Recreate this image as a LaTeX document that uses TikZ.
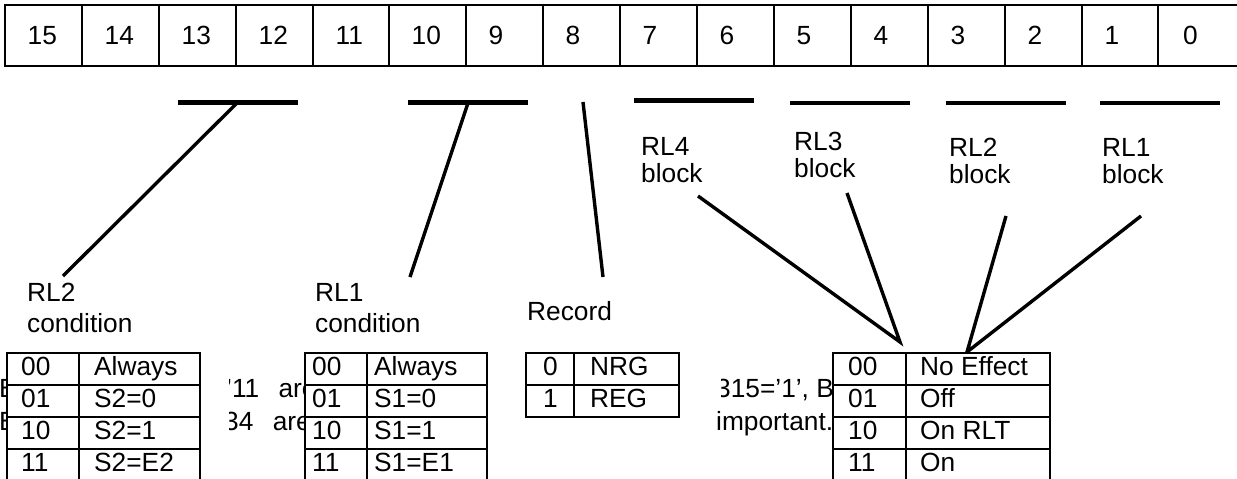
\documentclass[tikz,border=0pt]{standalone}
\usepackage{fontspec}
\setmainfont{Liberation Sans}
\begin{document}
\begin{tikzpicture}[x=1pt,y=-1pt,
  txt/.style={inner sep=0pt, anchor=base west, font=\fontsize{26.3}{31}\selectfont},
  bitcell/.style={anchor=north west, minimum width=77pt,
    minimum height=61pt, text width=32pt, align=left, inner xsep=21pt, inner ysep=0pt,
    font=\fontsize{26.3}{31}\selectfont},
  rowline/.style={line width=2.2pt},
  uline/.style={line width=4.6pt},
  conn/.style={line width=3.4pt},
  tab/.style={line width=1.6pt},
  occ/.style={fill=white, draw=none}]
\useasboundingbox (0,0) rectangle (1237,479);
\fill[white] (0,0) rectangle (1237,479);
% bit row
\foreach \i in {0,...,14} {
  \pgfmathsetmacro\xx{5+round(76.9*\i)}
  \pgfmathtruncatemacro\bit{15-\i}
  \node[bitcell] (bit\bit) at (\xx,5) {\bit};
}
\node[bitcell, minimum width=82pt] (bit0) at (1158,5) {0};
\draw[rowline] (1240,5) -- (5,5) -- (5,66) -- (1240,66);
\foreach \b in {14,...,0} \draw[rowline] (bit\b.north west) -- (bit\b.south west);
% underlines
\draw[uline] (178,102.5) coordinate (u1a) -- (298,102.5) coordinate (u1b);
\draw[uline] (408,102.5) coordinate (u2a) -- (528,102.5) coordinate (u2b);
\draw[uline] (634,100.5) coordinate (u3a) -- (754,100.5) coordinate (u3b);
\draw[uline] (790,103) coordinate (u4a) -- (910,103) coordinate (u4b);
\draw[uline] (946,103) coordinate (u5a) -- (1066,103) coordinate (u5b);
\draw[uline] (1100,103) coordinate (u6a) -- (1220,103) coordinate (u6b);
% labels
\node[txt] (rl2c) at (27,301) {RL2};
\node[txt] (rl2cb) at (27,332) {condition};
\node[txt] (rl1c) at (315,301) {RL1};
\node[txt] (rl1cb) at (315,332) {condition};
\node[txt] (rec) at (527,320) {Record};
\node[txt] (rl4) at (641,155) {RL4};
\node[txt] (rl4b) at (641,182) {block};
\node[txt] (rl3) at (794,150) {RL3};
\node[txt] (rl3b) at (794,177) {block};
\node[txt] (rl2) at (949,156) {RL2};
\node[txt] (rl2b) at (949,183) {block};
\node[txt] (rl1) at (1102,156) {RL1};
\node[txt] (rl1b) at (1102,183) {block};
% connector end points
\coordinate (l1t) at (237,103); \coordinate (l1b) at (63,276);
\coordinate (l2t) at (468,103); \coordinate (l2b) at (410,277);
\coordinate (l3t) at (583,102); \coordinate (l3b) at (603,277);
\coordinate (b4t) at (698,196); \coordinate (b3t) at (847,193);
\coordinate (b2t) at (1006,216); \coordinate (b1t) at (1141,216);
\coordinate (j1) at (900,342); \coordinate (j2) at (967,352);
\draw[conn] (l1t) -- (l1b);
\draw[conn] (l2t) -- (l2b);
\draw[conn] (l3t) -- (l3b);
\draw[conn, line join=miter] (b4t) -- (j1) -- (b3t);
\draw[conn, line join=miter] (b2t) -- (j2) -- (b1t);
% background text (partly hidden)
\node[txt] (bg1a) at (-1,397) {B};
\node[txt] (bg1b) at (226,397) {’11\hspace{12pt} are};
\node[txt] (bg1c) at (716,397) {315=’1’, B};
\node[txt] (bg2a) at (-1,430) {B};
\node[txt] (bg2b) at (224,430) {34\hspace{12pt} are};
\node[txt] (bg2c) at (716,430) {important.};
% occluding white boxes
\fill[occ] (7,353) rectangle (229,481);
\fill[occ] (305,353) rectangle (526,481);
\fill[occ] (526,353) rectangle (721,405);
\fill[occ] (833,353) rectangle (1050,481);
% table 1
\draw[tab] (7,353) rectangle (200,481);
\draw[tab] (79,353) -- (79,481);
\foreach \y in {385,417,449} \draw[tab] (7,\y) -- (200,\y);
\node[txt] (t1a) at (21,375) {00};
\node[txt] (t1b) at (21,407) {01};
\node[txt] (t1c) at (21,439) {10};
\node[txt] (t1d) at (21,471) {11};
\node[txt] (t1e) at (94,375) {Always};
\node[txt] (t1f) at (94,407) {S2=0};
\node[txt] (t1g) at (94,439) {S2=1};
\node[txt] (t1h) at (94,471) {S2=E2};
% table 2
\draw[tab] (305,353) rectangle (487,481);
\draw[tab] (367,353) -- (367,481);
\foreach \y in {385,417,449} \draw[tab] (305,\y) -- (487,\y);
\node[txt] (t2a) at (312,375) {00};
\node[txt] (t2b) at (312,407) {01};
\node[txt] (t2c) at (312,439) {10};
\node[txt] (t2d) at (312,471) {11};
\node[txt] (t2e) at (374,375) {Always};
\node[txt] (t2f) at (374,407) {S1=0};
\node[txt] (t2g) at (374,439) {S1=1};
\node[txt] (t2h) at (374,471) {S1=E1};
% record table
\draw[tab] (526,353) rectangle (679,417);
\draw[tab] (574,353) -- (574,417);
\draw[tab] (526,385) -- (679,385);
\node[txt] (t3a) at (543,375) {0};
\node[txt] (t3b) at (543,407) {1};
\node[txt] (t3c) at (590,375) {NRG};
\node[txt] (t3d) at (590,407) {REG};
% block table
\draw[tab] (833,353) rectangle (1050,481);
\draw[tab] (906,353) -- (906,481);
\foreach \y in {385,417,449} \draw[tab] (833,\y) -- (1050,\y);
\node[txt] (t4a) at (848,375) {00};
\node[txt] (t4b) at (848,407) {01};
\node[txt] (t4c) at (848,439) {10};
\node[txt] (t4d) at (848,471) {11};
\node[txt] (t4e) at (920,375) {No Effect};
\node[txt] (t4f) at (920,407) {Off};
\node[txt] (t4g) at (920,439) {On RLT};
\node[txt] (t4h) at (920,471) {On};
\end{tikzpicture}
\end{document}
